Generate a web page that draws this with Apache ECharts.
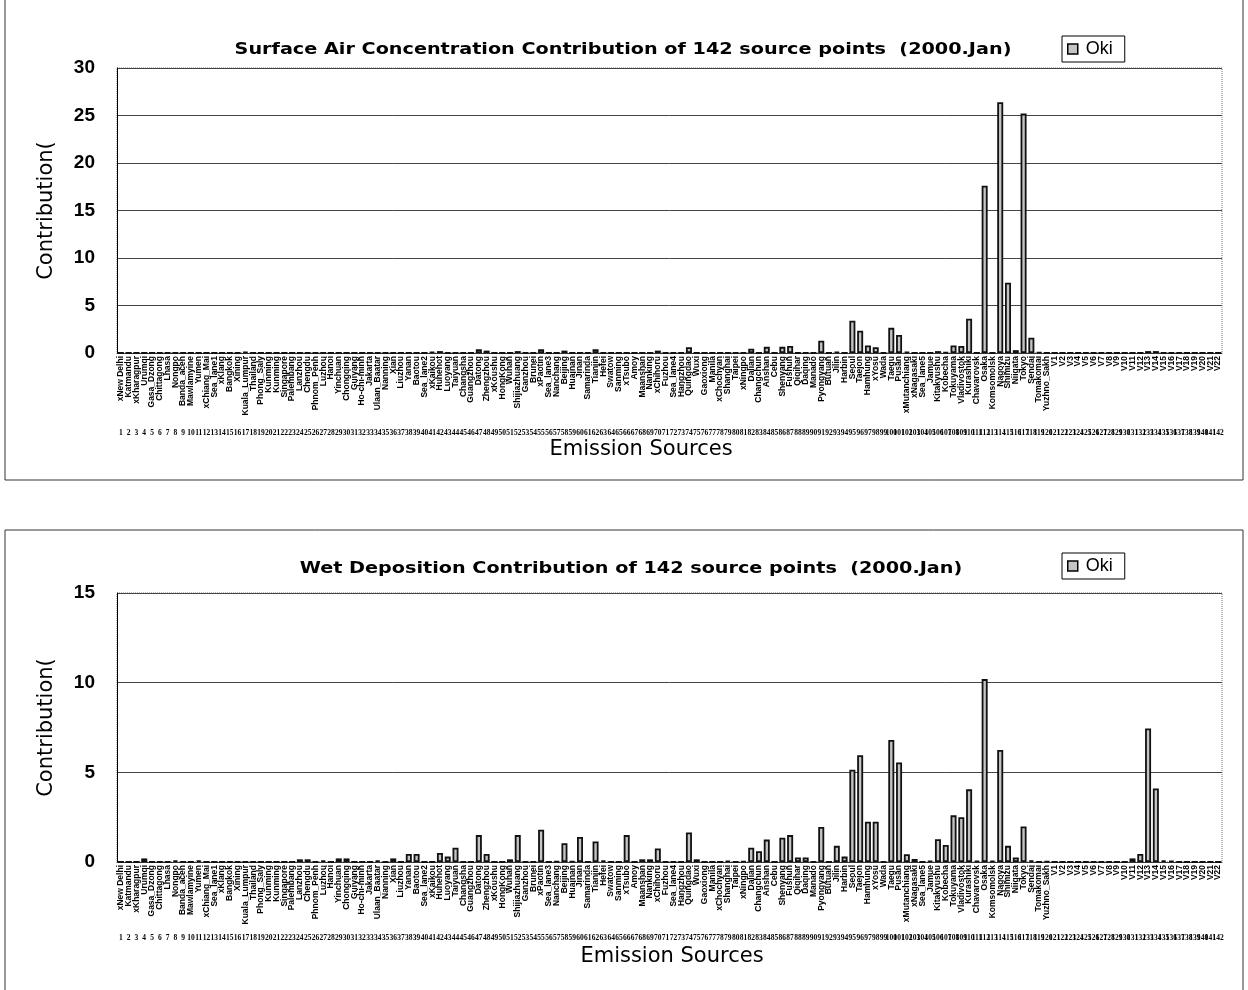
<!DOCTYPE html>
<html>
<head>
<meta charset="utf-8">
<script src="https://cdn.jsdelivr.net/npm/echarts@6/dist/echarts.min.js"></script>
<style>
  html, body { margin: 0; padding: 0; background: #fff; }
  #chart { width: 1248px; height: 990px; }
</style>
</head>
<body>
<div id="chart"></div>
<script>
// Emission source names, in source-point order (1..142)
const sourceNames = [
  'xNew Delhi','Katmandu','xKharagpur','Urumqi','Gasa_Dzong','Chittagong','Lhasa','Nongpo','Banda_aceh','Mawlamyine',
  'Yumen','xChiang_Mai','Sea_lane1','xKlang','Bangkok','Xining','Kuala_Lumpur','Thailand','Phong_Saly','Kunming',
  'Kunming','Singapore','Palembang','Lanzhou','Chengdu','Phnom_Penh','Luzhou','Hanoi','Yinchuan','Chongqing',
  'Guiyang','Ho-chi-minh','Jakarta','Ulaan_Baatar','Nanning','Xian','Liuzhou','Yanan','Baotou','Sea_lane2',
  'xKaikou','Huhehot','Luoyang','Taiyuan','Changsha','Guangzhou','Datong','Zhengzhou','xKoushu','HongKong',
  'Wuhan','Shijiazhuang','Ganzhou','Brunei','xPaotin','Sea_lane3','Nanchang','Beijing','Huainan','Jinan',
  'Samarinda','Tianjin','Hefei','Swatow','Sanming','xTsubo','Amoy','Maanshan','Nanking','xChihoru',
  'Fuzhou','Sea_lane4','Hangzhou','Quingdao','Wuxi','Gaoxiong','Manila','xChochyan','Shanghai','Taipei',
  'xNingpo','Dalian','Changchun','Anshan','Cebu','Shenyang','Fushun','Qiqihar','Daqing','Manado',
  'Pyongyang','Butuan','Jilin','Harbin','Seoul','Taejon','Hamhung','xYosu','Wada','Taegu',
  'Pusan','xMutanchiang','xNagasaki','Sea_lane5','Jamue','Kitakyushu','Kobecha','Tokuyama','Vladivostok','Kurashiki',
  'Chavarovsk','Osaka','Komsomolsk','Nagoya','Shimizu','Niigata','Tokyo','Sendai','Tomakomai','Yuzhno_Sakh',
  'V1','V2','V3','V4','V5','V6','V7','V8','V9','V10',
  'V11','V12','V13','V14','V15','V16','V17','V18','V19','V20',
  'V21','V22'
];

// Source point numbers shown under the names
const sourceNumbers = sourceNames.map((_, i) => String(i + 1));

// Surface air concentration contribution to Oki (2000.Jan)
const airOki = [
  0,0,0,0,0,0,0,0,0,0,
  0,0,0,0,0,0,0.15,0,0,0,
  0,0,0,0,0,0,0,0,0,0,
  0,0,0,0,0,0,0,0,0,0,
  0.15,0.2,0,0,0,0,0.4,0.25,0,0,
  0,0.2,0,0,0.4,0,0,0.25,0,0,
  0,0.4,0,0,0,0,0,0,0,0.25,
  0,0,0,0.6,0,0,0,0,0,0,
  0,0.45,0,0.65,0,0.65,0.75,0,0,0,
  1.3,0,0.15,0,3.4,2.35,0.8,0.6,0,2.65,
  1.9,0.15,0,0,0,0.2,0.1,0.8,0.75,3.6,
  0,17.6,0,26.4,7.4,0.3,25.2,1.6,0.1,0,
  0,0,0,0,0,0,0,0,0,0,
  0,0,0.2,0.2,0,0,0,0,0,0,
  0,0
];

// Wet deposition contribution to Oki (2000.Jan)
const wetOki = [
  0,0,0,0.2,0,0,0,0.1,0,0,
  0.1,0,0,0,0,0,0,0,0,0,
  0,0,0,0.15,0.15,0,0.1,0,0.2,0.2,
  0,0,0,0.1,0,0.2,0,0.45,0.45,0,
  0,0.5,0.3,0.8,0,0,1.5,0.45,0,0,
  0.15,1.5,0,0,1.8,0,0.05,1.05,0.05,1.4,
  0,1.15,0.1,0,0,1.5,0,0.15,0.15,0.75,
  0,0,0,1.65,0.15,0,0,0,0.08,0,
  0.05,0.8,0.6,1.25,0,1.35,1.5,0.25,0.25,0,
  1.95,0,0.9,0.3,5.15,5.95,2.25,2.25,0,6.8,
  5.55,0.43,0.17,0,0.08,1.27,0.95,2.6,2.5,4.05,
  0.08,10.2,0.08,6.25,0.9,0.25,1.98,0.1,0,0.05,
  0,0,0,0,0,0,0,0,0,0,
  0.2,0.45,7.45,4.1,0.1,0.07,0,0,0,0,
  0,0
];

const titles = [
  'Surface Air Concentration Contribution of 142 source points  (2000.Jan)',
  'Wet Deposition Contribution of 142 source points  (2000.Jan)'
];
const xTitle = 'Emission Sources';

const chart = echarts.init(document.getElementById('chart'), null, { renderer: 'canvas' });

const barStyle = { color: '#c4c4c4', borderColor: '#111', borderWidth: 1.8 };

function nameAxis(gridIndex) {
  return {
    type: 'category', gridIndex, data: sourceNames, position: 'bottom',
    axisLine: { show: true, lineStyle: { color: '#333', type: 'dotted' } },
    axisTick: { show: false },
    axisLabel: {
      interval: 0, rotate: 90, margin: 3, color: '#000',
      fontSize: 8.5, fontWeight: 'bold', fontFamily: 'Liberation Sans'
    }
  };
}

function numberAxis(gridIndex, offset) {
  return {
    type: 'category', gridIndex, data: sourceNumbers, position: 'bottom', offset,
    axisLine: { show: false }, axisTick: { show: false },
    axisLabel: { interval: 0, margin: 0, color: '#000', fontSize: 7.5, fontWeight: 'bold', fontFamily: 'Liberation Sans Narrow' }
  };
}

function valueAxis(gridIndex, max) {
  return {
    type: 'value', gridIndex, min: 0, max, interval: 5,
    axisLine: { show: true, lineStyle: { color: '#000', width: 1 } },
    axisTick: { show: false },
    axisLabel: { margin: 22, color: '#000', fontSize: 19, fontWeight: 'bold', fontFamily: 'Liberation Sans' },
    splitLine: { show: true, lineStyle: { color: '#444', width: 1 } },
    name: 'Contribution(', nameLocation: 'middle', nameRotate: 90, nameGap: 60,
    nameTextStyle: { fontSize: 21, color: '#000', fontFamily: 'DejaVu Sans' }
  };
}

function titleText(text, x, y) {
  return {
    type: 'text', x, y, scaleX: 1.28,
    style: {
      text, textAlign: 'center', textVerticalAlign: 'middle',
      font: 'bold 15px "DejaVu Sans"', fill: '#000'
    }
  };
}

function axisTitleText(x, y) {
  return {
    type: 'text', x, y,
    style: {
      text: xTitle, textAlign: 'center', textVerticalAlign: 'middle',
      font: '21px "DejaVu Sans"', fill: '#000'
    }
  };
}

const legendBase = {
  data: ['Oki'], orient: 'horizontal', icon: 'rect', itemWidth: 10, itemHeight: 10, itemGap: 4,
  backgroundColor: '#fff', borderColor: '#000', borderWidth: 1, padding: [4, 12, 4, 5],
  textStyle: { fontSize: 18, color: '#000', fontFamily: 'Liberation Sans', padding: [0, 0, 0, 3] },
  itemStyle: { borderColor: '#000', borderWidth: 1.5 }
};

chart.setOption({
  animation: false,
  backgroundColor: '#fff',
  grid: [
    { left: 117, top: 68, right: 26, height: 285, show: true, borderColor: '#777', borderWidth: 1, borderType: 'dotted', backgroundColor: 'transparent' },
    { left: 117, top: 593, right: 26, height: 269, show: true, borderColor: '#777', borderWidth: 1, borderType: 'dotted', backgroundColor: 'transparent' }
  ],
  legend: [
    Object.assign({ left: 1062, top: 36 }, legendBase),
    Object.assign({ left: 1062, top: 553 }, legendBase)
  ],
  xAxis: [nameAxis(0), numberAxis(0, 76), nameAxis(1), numberAxis(1, 72)],
  yAxis: [valueAxis(0, 30), valueAxis(1, 15)],
  series: [
    { name: 'Oki', type: 'bar', xAxisIndex: 0, yAxisIndex: 0, data: airOki, barWidth: 6, itemStyle: barStyle },
    { name: 'Oki', type: 'bar', xAxisIndex: 2, yAxisIndex: 1, data: wetOki, barWidth: 6, itemStyle: barStyle }
  ],
  graphic: [
    titleText(titles[0], 623, 50),
    titleText(titles[1], 631, 569),
    axisTitleText(641, 450),
    axisTitleText(672, 957),
    // panel frames
    { type: 'polyline', shape: { points: [[5, 0], [5, 480], [1243, 480], [1243, 0]] }, style: { stroke: '#333', lineWidth: 1, fill: null } },
    { type: 'rect', shape: { x: 5, y: 530, width: 1238, height: 470 }, style: { stroke: '#333', lineWidth: 1, fill: null } }
  ]
});
</script>
</body>
</html>
